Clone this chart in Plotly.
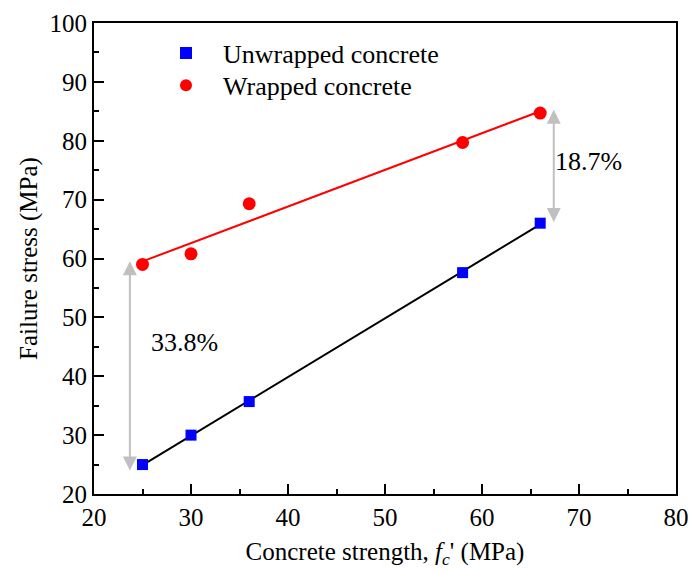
import plotly.graph_objects as go
import numpy as np

strength = [25, 30, 36, 58, 66]
unwrapped = [25.0, 30.0, 35.7, 57.6, 66.0]
wrapped = [59.0, 60.8, 69.3, 79.7, 84.7]

fit_x = [25, 66]

FONT = "Liberation Serif"

fig = go.Figure()

pu = np.polyfit(strength, unwrapped, 1)
pw = np.polyfit(strength, wrapped, 1)

fig.add_trace(go.Scatter(x=fit_x, y=list(np.polyval(pu, fit_x)), mode="lines",
                         line=dict(color="black", width=2), showlegend=False, hoverinfo="skip"))
fig.add_trace(go.Scatter(x=fit_x, y=list(np.polyval(pw, fit_x)), mode="lines",
                         line=dict(color="#ff0000", width=2), showlegend=False, hoverinfo="skip"))

fig.add_trace(go.Scatter(x=strength, y=unwrapped, mode="markers", name="Unwrapped concrete",
                         marker=dict(symbol="square", size=11, color="#0000ff"), legend="legend"))
fig.add_trace(go.Scatter(x=strength, y=wrapped, mode="markers", name="Wrapped concrete",
                         marker=dict(symbol="circle", size=13, color="#ff0000"), legend="legend2"))

arrows = [
    dict(x=23.7, y1=24.0, y2=59.8),
    dict(x=67.4, y1=66.2, y2=85.5),
]
for a in arrows:
    fig.add_annotation(x=a["x"], y=a["y1"], ax=a["x"], ay=a["y2"], xref="x", yref="y",
                       axref="x", ayref="y", text="", showarrow=True, arrowhead=2,
                       arrowside="end+start", arrowsize=1.4, arrowwidth=2, arrowcolor="#c0c0c0")

labels = [(29.3, 45.8, "33.8%"), (71.0, 76.4, "18.7%")]
for lx, ly, lt in labels:
    fig.add_annotation(x=lx, y=ly, xref="x", yref="y", text=lt, showarrow=False,
                       font=dict(family=FONT, size=26, color="black"))

axis_common = dict(showline=True, linecolor="black", linewidth=2, mirror=True,
                   ticks="inside", ticklen=10, tickwidth=2, tickcolor="black",
                   showgrid=False, zeroline=False, automargin=False,
                   tickfont=dict(family=FONT, size=25, color="black"),
                   minor=dict(ticks="inside", ticklen=5, tickwidth=2, tickcolor="black", dtick=5))

fig.update_xaxes(range=[20, 80], dtick=10, **axis_common,
                 title=dict(text="Concrete strength, <i>f</i><sub><i>c</i></sub>' (MPa)",
                            font=dict(family=FONT, size=25, color="black"), standoff=12))
fig.update_yaxes(range=[20, 100], dtick=10, **axis_common,
                 title=dict(text="Failure stress (MPa)",
                            font=dict(family=FONT, size=25, color="black"), standoff=5))

leg_common = dict(font=dict(family=FONT, size=26, color="black"), bgcolor="rgba(0,0,0,0)",
                  xanchor="left", yanchor="middle", itemsizing="constant", itemwidth=64)
fig.update_layout(
    width=689, height=572,
    margin=dict(l=94, r=13, t=23, b=78),
    plot_bgcolor="white", paper_bgcolor="white",
    legend=dict(x=0.0945, y=0.936, **leg_common),
    legend2=dict(x=0.0945, y=0.8675, **leg_common),
)

fig.write_html("out.html", config={"displayModeBar": False},
               post_script="document.body.style.margin='0';document.body.style.overflow='hidden';")
